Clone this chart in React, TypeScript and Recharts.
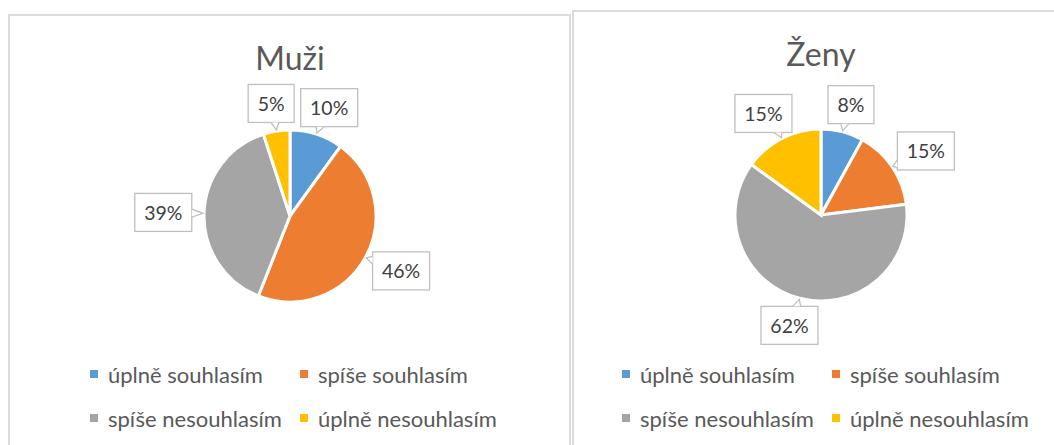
import React from 'react';
import { PieChart, Pie, Cell, Legend } from 'recharts';

const categories = ['úplně souhlasím', 'spíše souhlasím', 'spíše nesouhlasím', 'úplně nesouhlasím'];
const muziValues = [10, 46, 39, 5];
const zenyValues = [8, 15, 62, 15];
const sliceColors = ['#5B9BD5', '#ED7D31', '#A5A5A5', '#FFC000'];
const titles = ['Muži', 'Ženy'];

const FONT = 'Lato, "Noto Sans", sans-serif';
const RAD = Math.PI / 180;

const buildData = (values: number[]) => categories.map((name, i) => ({ name, value: values[i] }));

const renderCallout = (props: any) => {
  const { cx, cy, midAngle, outerRadius, percent, index } = props;
  const text = `${Math.round(percent * 100)}%`;
  const cos = Math.cos(-midAngle * RAD);
  const sin = Math.sin(-midAngle * RAD);
  const hw = (20 + 11 * (text.length - 1) + 15) / 2;
  const hh = 19;
  const gap = 8;
  const ax = cx + (outerRadius + gap) * cos;
  const ay = cy + (outerRadius + gap) * sin;
  const bx = ax + cos * hw * 1.15;
  const by = ay + sin * hh * 1.05;
  const tx = cx + (outerRadius + 1) * cos;
  const ty = cy + (outerRadius + 1) * sin;
  const dx = tx - bx;
  const dy = ty - by;
  const sx = dx !== 0 ? hw / Math.abs(dx) : Infinity;
  const sy = dy !== 0 ? hh / Math.abs(dy) : Infinity;
  const t = Math.min(sx, sy);
  let pointer = null;
  if (t < 1) {
    const ex = bx + dx * t;
    const ey = by + dy * t;
    let b1x, b1y, b2x, b2y;
    if (sx < sy) {
      const yy = Math.max(by - hh + 6, Math.min(by + hh - 6, ey));
      b1x = ex; b2x = ex; b1y = yy - 4; b2y = yy + 4;
    } else {
      const xx = Math.max(bx - hw + 6, Math.min(bx + hw - 6, ex));
      b1y = ey; b2y = ey; b1x = xx - 4; b2x = xx + 4;
    }
    pointer = (
      <g>
        <polygon points={`${b1x},${b1y} ${tx},${ty} ${b2x},${b2y}`} fill="#ffffff" stroke="none" />
        <polyline points={`${b1x},${b1y} ${tx},${ty} ${b2x},${b2y}`} fill="none" stroke="#BFBFBF" strokeWidth={1.3} />
      </g>
    );
  }
  return (
    <g key={`callout-${index}`}>
      <rect x={bx - hw} y={by - hh} width={hw * 2} height={hh * 2} fill="#ffffff" stroke="#BFBFBF" strokeWidth={1.3} />
      {pointer}
      <text x={bx} y={by} textAnchor="middle" dominantBaseline="central" fill="#404040" fontSize={19.5} fontFamily={FONT}>
        {text}
      </text>
    </g>
  );
};

const renderLegend = (props: any) => {
  const payload = [...(props.payload || [])].sort(
    (a: any, b: any) => categories.indexOf(a.value) - categories.indexOf(b.value)
  );
  return (
    <div style={{ display: 'grid', gridTemplateColumns: '210px 230px', fontFamily: FONT }}>
      {payload.map((entry: any, i: number) => (
        <div key={`leg-${i}`} style={{ display: 'flex', alignItems: 'center', height: 44 }}>
          <span style={{ display: 'inline-block', width: 8, height: 8, background: entry.color, marginRight: 10, flex: 'none' }} />
          <span style={{ fontSize: 22, color: '#595959', whiteSpace: 'nowrap' }}>{entry.value}</span>
        </div>
      ))}
    </div>
  );
};

type PanelProps = {
  title: string;
  values: number[];
  left: number;
  top: number;
  width: number;
  cx: number;
  cy: number;
  legendLeft: number;
  legendTop: number;
};

const Panel = ({ title, values, left, top, width, cx, cy, legendLeft, legendTop }: PanelProps) => {
  const data = buildData(values);
  return (
    <div
      style={{
        position: 'absolute',
        left,
        top,
        width,
        height: 470,
        border: '2px solid #DCDCDC',
        boxSizing: 'border-box',
        background: '#ffffff',
      }}
    >
      <div
        style={{
          position: 'absolute',
          left: cx - 100,
          top: 26,
          width: 200,
          textAlign: 'center',
          fontFamily: FONT,
          fontSize: 32,
          lineHeight: '32px',
          color: '#595959',
        }}
      >
        {title}
      </div>
      <div style={{ position: 'absolute', left: 0, top: 0 }}>
        <PieChart width={width - 4} height={440} margin={{ top: 0, right: 0, bottom: 0, left: 0 }}>
          <Pie
            data={data}
            dataKey="value"
            nameKey="name"
            cx={cx}
            cy={cy}
            outerRadius={86}
            startAngle={90}
            endAngle={-270}
            stroke="#ffffff"
            strokeWidth={3}
            label={renderCallout}
            labelLine={false}
            isAnimationActive={false}
          >
            {data.map((d, i) => (
              <Cell key={`cell-${d.name}`} fill={sliceColors[i]} />
            ))}
          </Pie>
          <Legend
            content={renderLegend}
            wrapperStyle={{ position: 'absolute', left: legendLeft, top: legendTop, width: 440, bottom: 'auto' }}
          />
        </PieChart>
      </div>
    </div>
  );
};

export default function App() {
  return (
    <div
      style={{
        position: 'absolute',
        left: 0,
        top: 0,
        width: 1054,
        height: 445,
        overflow: 'hidden',
        background: '#ffffff',
      }}
    >
      <Panel title={titles[0]} values={muziValues} left={8} top={14} width={563} cx={280} cy={200} legendLeft={80} legendTop={336} />
      <Panel title={titles[1]} values={zenyValues} left={572} top={10} width={500} cx={247} cy={203} legendLeft={48} legendTop={340} />
    </div>
  );
}
